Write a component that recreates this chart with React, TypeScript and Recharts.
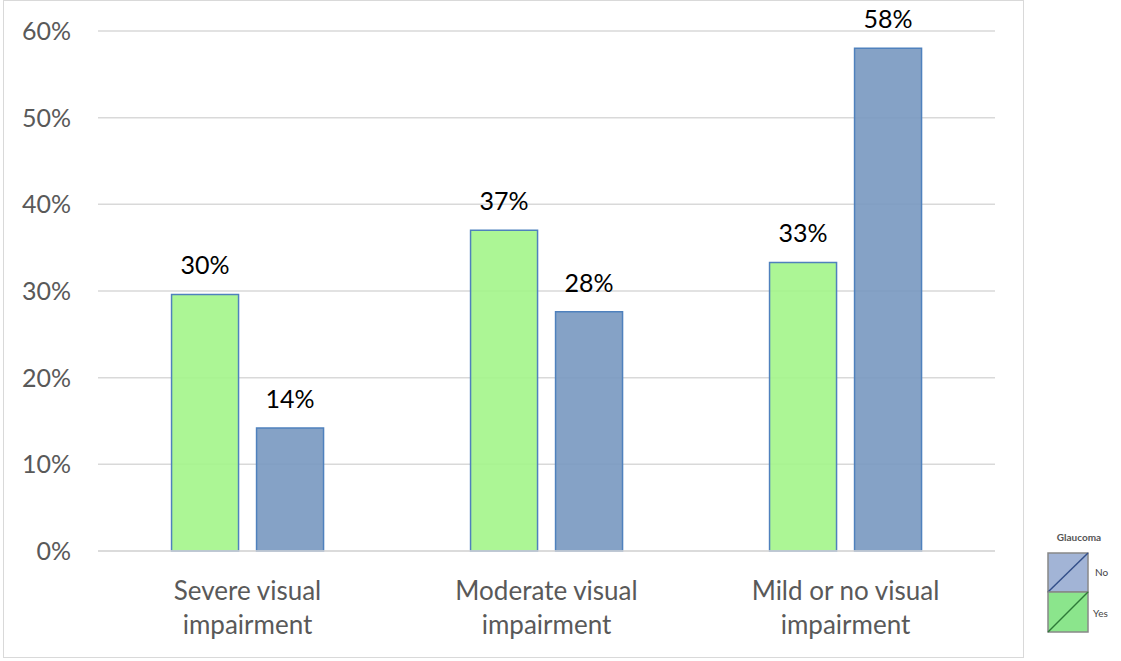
import { BarChart, Bar, XAxis, YAxis, CartesianGrid, LabelList } from 'recharts';

const categories = ['Severe visual\nimpairment', 'Moderate visual\nimpairment', 'Mild or no visual\nimpairment'];
const yesValues = [29.6, 37.0, 33.3];
const noValues = [14.2, 27.6, 58.0];
const yTicks = [0, 10, 20, 30, 40, 50, 60];

const data = categories.map((name, i) => ({ name, Yes: yesValues[i], No: noValues[i] }));

const FONT = 'Lato, "Open Sans", sans-serif';

const CategoryTick = (props: any) => {
  const { x, y, payload } = props;
  const lines = String(payload.value).split('\n');
  return (
    <text x={x} y={y} textAnchor="middle" fill="#595959" fontSize={26} fontFamily={FONT}>
      {lines.map((l, i) => (
        <tspan key={i} x={x} y={y + 49 + i * 34}>{l}</tspan>
      ))}
    </text>
  );
};

// legend drawn beside the plot, like the pasted image in the original
const GlaucomaLegend = () => (
  <svg width={80} height={110} style={{ position: 'absolute', left: 1043, top: 528 }}>
    <text x={36} y={13} textAnchor="middle" fontSize={10} fontWeight="bold" fill="#555" fontFamily={FONT}>Glaucoma</text>
    <rect x={5} y={25} width={40} height={39} fill="#a2b4d6" stroke="#888" strokeWidth={1.5} />
    <line x1={5} y1={64} x2={45} y2={25} stroke="#34508a" strokeWidth={1.5} />
    <rect x={5} y={64} width={40} height={40} fill="#8be58c" stroke="#888" strokeWidth={1.5} />
    <line x1={5} y1={104} x2={45} y2={64} stroke="#2e7a38" strokeWidth={1.5} />
    <text x={52} y={48} fontSize={10} fill="#444" fontFamily={FONT}>No</text>
    <text x={50} y={89} fontSize={10} fill="#444" fontFamily={FONT}>Yes</text>
  </svg>
);

export default function App() {
  return (
    <div style={{ position: 'absolute', left: 0, top: 0, width: 1121, height: 661, background: '#fff' }}>
      <div style={{ position: 'absolute', left: 3, top: 0, width: 1021, height: 658, border: '1.5px solid #d9d9d9', boxSizing: 'border-box' }} />
      <div style={{ position: 'absolute', left: 0, top: 0 }}>
        <BarChart
          width={1121}
          height={661}
          data={data}
          margin={{ top: 31, right: 126, bottom: 0, left: 0 }}
          barCategoryGap="24.6%"
          barGap={18}
        >
          <CartesianGrid vertical={false} stroke="#d9d9d9" strokeWidth={1.5} />
          <XAxis
            dataKey="name"
            height={110}
            axisLine={{ stroke: '#d9d9d9', strokeWidth: 1.5 }}
            tickLine={false}
            tickSize={0}
            tickMargin={0}
            tick={<CategoryTick />}
            interval={0}
          />
          <YAxis
            width={98}
            domain={[0, 60]}
            ticks={yTicks}
            axisLine={false}
            tickLine={false}
            tickSize={0}
            tickMargin={27}
            tickFormatter={(v: number) => `${v}%`}
            tick={{ fill: '#595959', fontSize: 25, fontFamily: FONT }}
          />
          <Bar dataKey="Yes" fill="#a3f58a" fillOpacity={0.9} stroke="#4f81bd" strokeWidth={1.5} isAnimationActive={false}>
            <LabelList dataKey="Yes" position="top" offset={20} fill="#000" fontSize={25} fontFamily={FONT}
              formatter={(v: any) => `${Math.round(Number(v))}%`} />
          </Bar>
          <Bar dataKey="No" fill="#7898c0" fillOpacity={0.9} stroke="#4f81bd" strokeWidth={1.5} isAnimationActive={false}>
            <LabelList dataKey="No" position="top" offset={20} fill="#000" fontSize={25} fontFamily={FONT}
              formatter={(v: any) => `${Math.round(Number(v))}%`} />
          </Bar>
        </BarChart>
      </div>
      <GlaucomaLegend />
    </div>
  );
}
